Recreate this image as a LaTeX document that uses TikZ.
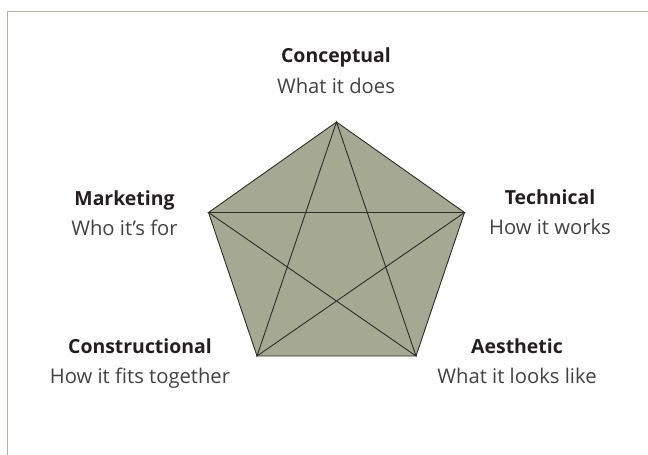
\documentclass[tikz,border=0pt]{standalone}
\usepackage{fontspec}
\setmainfont{Open Sans}
\usetikzlibrary{positioning}
\definecolor{framegray}{RGB}{178,180,160}
\definecolor{pentafill}{RGB}{165,168,147}
\definecolor{edgedark}{RGB}{45,45,40}
\definecolor{labeltext}{RGB}{35,31,32}
\tikzset{x=1bp, y=-1bp, font=\fontsize{19}{19}\selectfont}
\tikzstyle{vertex} = [coordinate]
\tikzstyle{title} = [anchor=base, inner sep=0pt, text=labeltext, font=\fontsize{19.5}{19.5}\selectfont\bfseries]
\tikzstyle{subtitle} = [anchor=base, inner sep=0pt, text=labeltext!85, font=\fontsize{20.3}{20.3}\selectfont]
\tikzstyle{edge} = [draw=edgedark, line width=0.9bp, line join=miter]

\begin{document}
\begin{tikzpicture}
	\useasboundingbox (0,0) rectangle (648,455);
	% frame on top and left
	\draw [framegray, line width=1.6bp] (7.5,455) -- (7.5,11.5) -- (648,11.5);

	% corners of the pentagon
	\node [vertex] (v_top) at (336.5,122) {};
	\node [vertex] (v_right) at (464.5,212.5) {};
	\node [vertex] (v_bright) at (416,356) {};
	\node [vertex] (v_bleft) at (257,356) {};
	\node [vertex] (v_left) at (208.5,212.5) {};

	\fill [pentafill] (v_top) -- (v_right) -- (v_bright) -- (v_bleft) -- (v_left) -- cycle;
	\draw [edge] (v_top) -- (v_right) -- (v_bright) -- (v_bleft) -- (v_left) -- cycle;
	% the star inside
	\draw [edge] (v_top) -- (v_bleft) -- (v_right) -- (v_left) -- (v_bright) -- cycle;

	% labels
	\node [title] (conceptual) at (336,63) {Conceptual};
	\node [subtitle] (conceptual_sub) at ([yshift=-30.5bp] conceptual.base) {What it does};
	\node [title] (marketing) at (124.5,205.5) {Marketing};
	\node [subtitle] (marketing_sub) at ([yshift=-30.5bp] marketing.base) {Who it’s for};
	\node [title] (technical) at (550,204.5) {Technical};
	\node [subtitle] (technical_sub) at ([yshift=-30.5bp] technical.base) {How it works};
	\node [title] (constructional) at (140,353) {Constructional};
	\node [subtitle] (constructional_sub) at ([yshift=-30.5bp] constructional.base) {How it fits together};
	\node [title] (aesthetic) at (517,353) {Aesthetic};
	\node [subtitle] (aesthetic_sub) at ([yshift=-30.5bp] aesthetic.base) {What it looks like};
\end{tikzpicture}
\end{document}
